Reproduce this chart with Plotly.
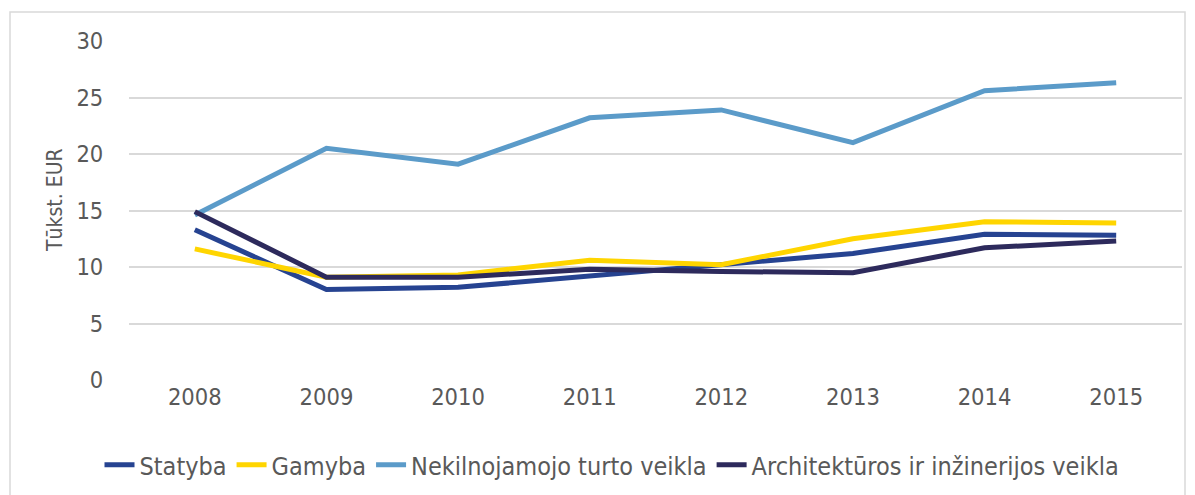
import plotly.graph_objects as go

years = ["2008", "2009", "2010", "2011", "2012", "2013", "2014", "2015"]
statyba = [13.3, 8.0, 8.2, 9.2, 10.1, 11.2, 12.9, 12.8]
gamyba = [11.6, 9.1, 9.3, 10.6, 10.2, 12.5, 14.0, 13.9]
nekilnojamojo = [14.6, 20.5, 19.1, 23.2, 23.9, 21.0, 25.6, 26.3]
architekturos = [14.9, 9.1, 9.1, 9.8, 9.6, 9.5, 11.7, 12.3]
y_title = "Tūkst. EUR"

series = [
    ("Statyba", statyba, "#264391"),
    ("Gamyba", gamyba, "#FFD500"),
    ("Nekilnojamojo turto veikla", nekilnojamojo, "#5B9BC9"),
    ("Architektūros ir inžinerijos veikla", architekturos, "#2D2A5C"),
]

fig = go.Figure()
for name, vals, col in series:
    fig.add_trace(go.Scatter(x=years, y=vals, name=name, mode="lines",
                             line=dict(color=col, width=5)))

OFF = 8  # page body margin
W, H = 1195 - OFF, 495 - OFF
L, R, T, B = 129 - OFF, 13, 41 - OFF, 115
pw, ph = W - L - R, H - T - B

def px_x(p):
    return (p - OFF - L) / pw

def px_y(p):
    return (H - B - (p - OFF)) / ph

FONT = "DejaVu Sans Condensed"
GREY = "#595959"

fig.update_layout(
    width=W, height=H,
    margin=dict(l=L, r=R, t=T, b=B, autoexpand=False),
    paper_bgcolor="white", plot_bgcolor="white",
    font=dict(family=FONT, size=23, color=GREY),
    xaxis=dict(type="category", showgrid=False, zeroline=False, showline=False,
               ticks="", tickfont=dict(size=23.5, color=GREY), range=[-0.5, 7.5],
               automargin=False),
    yaxis=dict(range=[0, 30], dtick=5, showgrid=True, gridcolor="#D9D9D9", gridwidth=1.5,
               zeroline=False, showline=False, ticks="outside", ticklen=20,
               tickcolor="rgba(0,0,0,0)", tickfont=dict(size=23.5, color=GREY),
               automargin=False),
    legend=dict(orientation="h", x=px_x(612), xanchor="center", y=px_y(465), yanchor="middle",
                font=dict(family=FONT, size=25, color=GREY),
                tracegroupgap=0),
    showlegend=True,
    annotations=[dict(text=y_title, xref="paper", yref="paper", x=px_x(55), y=px_y(200),
                      xanchor="center", yanchor="middle", textangle=-90, showarrow=False,
                      font=dict(family=FONT, size=21, color=GREY))],
    shapes=[dict(type="rect", xref="paper", yref="paper",
                 x0=px_x(10), x1=px_x(1185), y0=px_y(520), y1=px_y(12),
                 line=dict(color="#D9D9D9", width=1.5), fillcolor="rgba(0,0,0,0)", layer="below")],
)

fig.write_html("out.html")
